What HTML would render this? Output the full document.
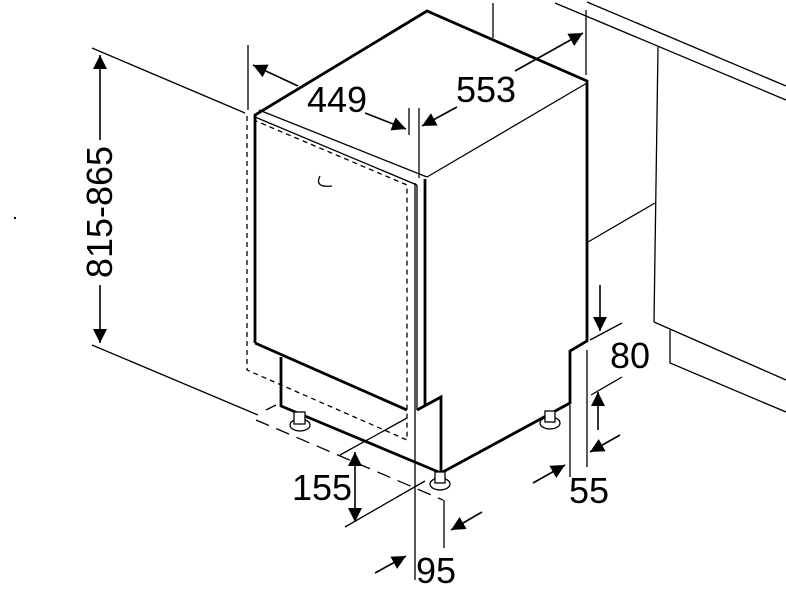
<!DOCTYPE html>
<html><head><meta charset="utf-8"><style>
html,body{margin:0;padding:0;background:#fff;}
svg{display:block;}
text{font-family:"Liberation Sans",sans-serif;font-size:36px;fill:#000;}
</style></head><body>
<svg width="786" height="590" viewBox="0 0 786 590" xmlns="http://www.w3.org/2000/svg">
<defs>
<marker id="a" viewBox="0 0 10 10" refX="10" refY="5" markerWidth="14" markerHeight="14" markerUnits="userSpaceOnUse" orient="auto"><path d="M0,0 L10,5 L0,10 z" fill="#000"/></marker>
</defs>
<g stroke="#000" fill="none" stroke-width="1.3">
<!-- kitchen cabinet -->
<line x1="555" y1="3" x2="786" y2="100"/>
<line x1="587" y1="2" x2="786" y2="86"/>
<line x1="658" y1="47" x2="654" y2="322"/>
<line x1="588" y1="242" x2="655" y2="203"/>
<line x1="654" y1="322" x2="786" y2="380"/>
<polyline points="670,330 670,363 786,412"/>
<!-- extension lines -->
<line x1="92" y1="48" x2="245" y2="113"/>
<line x1="92" y1="345" x2="258" y2="415"/>
<line x1="248" y1="45" x2="248" y2="110"/>
<line x1="409" y1="108" x2="409" y2="135"/>
<line x1="419" y1="108" x2="419" y2="178"/>
<line x1="493" y1="3" x2="493" y2="38"/>
<line x1="586" y1="10" x2="586" y2="75"/>
<line x1="415" y1="183" x2="415" y2="580"/>
<line x1="444" y1="500" x2="444" y2="548"/>
<line x1="340" y1="455" x2="407" y2="418"/>
<line x1="345" y1="527" x2="425" y2="481"/>
<line x1="570" y1="405" x2="570" y2="477"/>
<line x1="587" y1="350" x2="587" y2="467"/>
<line x1="590" y1="340" x2="622" y2="323"/>
<line x1="591" y1="395" x2="622" y2="377"/>
<!-- dashed -->
<g stroke-dasharray="5,4">
<polyline points="247,116 247,370 407,440 407,185 256,121"/>
</g>
<line x1="256" y1="420" x2="443" y2="500" stroke-dasharray="14,8"/>
<line x1="266" y1="410" x2="276" y2="405"/>
<!-- cabinet body -->
<g stroke-width="2.8" stroke-linejoin="miter">
<polyline points="255,343 255,115 427,11 587,81 587,341 570,351 570,403 441,473 281,406 281,357"/>
<line x1="255" y1="343" x2="407" y2="410"/>
<line x1="425" y1="179" x2="425" y2="405"/>
<polyline points="417,410 441,397 441,473"/>
</g>
<line x1="259" y1="110" x2="427" y2="177"/>
<line x1="427" y1="177" x2="587" y2="83"/>
<line x1="255" y1="117" x2="417" y2="185"/>
<line x1="417" y1="185" x2="417" y2="410"/>
<!-- handle -->
<path d="M320,176 Q314,188 332,186"/>
<!-- feet -->
<g stroke-width="1.3" fill="#fff">
<ellipse cx="300" cy="425" rx="10" ry="6"/><rect x="294" y="412" width="11" height="12"/>
<ellipse cx="440" cy="484" rx="10" ry="6"/><rect x="435" y="472" width="10" height="11"/>
<ellipse cx="550" cy="423" rx="10" ry="6"/><rect x="545" y="411" width="10" height="11"/>
</g>
<!-- dimension arrows -->
<g stroke-width="1.6">
<line x1="100" y1="140" x2="100" y2="55" marker-end="url(#a)"/>
<line x1="100" y1="285" x2="100" y2="343" marker-end="url(#a)"/>
<line x1="298" y1="86" x2="253" y2="65" marker-end="url(#a)"/>
<line x1="365" y1="113" x2="406" y2="129" marker-end="url(#a)"/>
<line x1="457" y1="107" x2="422" y2="126" marker-end="url(#a)"/>
<line x1="515" y1="71" x2="583" y2="33" marker-end="url(#a)"/>
<line x1="600" y1="285" x2="600" y2="331" marker-end="url(#a)"/>
<line x1="598" y1="430" x2="598" y2="392" marker-end="url(#a)"/>
<line x1="620" y1="435" x2="590" y2="452" marker-end="url(#a)"/>
<line x1="533" y1="483" x2="565" y2="465" marker-end="url(#a)"/>
<line x1="355" y1="485" x2="355" y2="452" marker-end="url(#a)"/>
<line x1="355" y1="485" x2="355" y2="522" marker-end="url(#a)"/>
<line x1="482" y1="512" x2="451" y2="530" marker-end="url(#a)"/>
<line x1="375" y1="573" x2="406" y2="556" marker-end="url(#a)"/>
</g>
</g>
<rect x="14" y="217" width="2" height="2" fill="#000"/>
<text x="307" y="112">449</text>
<text x="456" y="102">553</text>
<text x="610" y="368">80</text>
<text x="569" y="503">55</text>
<text x="292" y="500">155</text>
<text x="416" y="583">95</text>
<text transform="translate(112,212) rotate(-90)" text-anchor="middle">815-865</text>
</svg>
</body></html>
